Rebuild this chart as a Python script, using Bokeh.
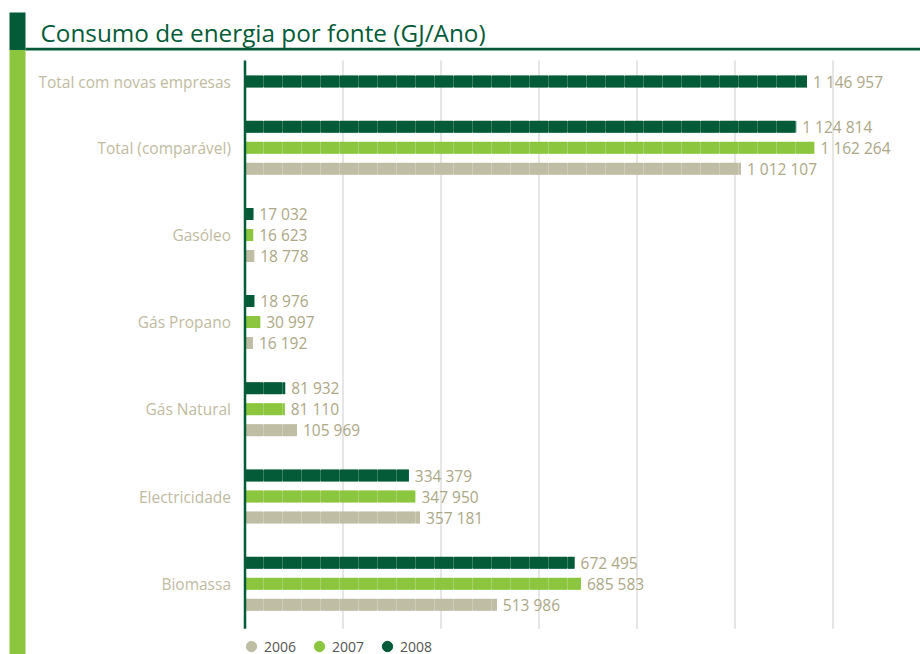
from bokeh.plotting import figure
from bokeh.models import Range1d, BoxAnnotation, Label, Legend, LegendItem, ColumnDataSource
from bokeh.core.properties import value
from bokeh.embed import file_html
from bokeh.resources import INLINE

# ---------------- data ----------------
categories = ["Total com novas empresas", "Total (comparável)", "Gasóleo",
              "Gás Propano", "Gás Natural", "Electricidade", "Biomassa"]
years = ["2006", "2007", "2008"]
v2006 = [None, 1012107, 18778, 16192, 105969, 357181, 513986]
v2007 = [None, 1162264, 16623, 30997, 81110, 347950, 685583]
v2008 = [1146957, 1124814, 17032, 18976, 81932, 334379, 672495]
grid_ticks = [200000, 400000, 600000, 800000, 1000000, 1200000]
title_text = "Consumo de energia por fonte (GJ/Ano)"

# ---------------- style ----------------
DARK = "#045b37"
LIGHT = "#8cc63f"
KHAKI = "#c0bda5"
colors = {"2006": KHAKI, "2007": LIGHT, "2008": DARK}
series = {"2006": v2006, "2007": v2007, "2008": v2008}
FONT = "Open Sans"

W, H = 920, 654
AXIS_PX = 244.5
PX_PER_UNIT = 98 / 200000


def px_to_x(px):
    return (px - AXIS_PX) / PX_PER_UNIT


def fmt(v):
    return f"{v:,}".replace(",", " ")


p = figure(width=W, height=H,
           x_range=Range1d(px_to_x(0), px_to_x(W)),
           y_range=Range1d(H, 0),
           x_axis_location=None, y_axis_location=None,
           min_border=0, toolbar_location=None, output_backend="svg")
p.grid.visible = False
p.outline_line_color = None
p.background_fill_color = "white"
p.border_fill_color = "white"

# ---------------- layout of rows ----------------
ROW = 21
GAP = 24.2
FIRST = 81
order = ["2008", "2007", "2006"]
rows = {yr: dict(x=[], y=[], label=[]) for yr in years}
cat_y = []
pos = FIRST
all_rows = []
for i, cat in enumerate(categories):
    ys = []
    for yr in order:
        v = series[yr][i]
        if v is None:
            continue
        rows[yr]["x"].append(v)
        rows[yr]["y"].append(pos)
        rows[yr]["label"].append(fmt(v))
        ys.append(pos)
        all_rows.append(pos)
        pos += ROW
    cat_y.append(sum(ys) / len(ys))
    pos += GAP

top = min(all_rows) - ROW
bottom = max(all_rows) + 24

# decorations
p.add_layout(BoxAnnotation(left=px_to_x(9), right=px_to_x(25), top=12, bottom=49.5,
                           fill_color=DARK, fill_alpha=1, line_color=None))
p.add_layout(BoxAnnotation(left=px_to_x(9), right=px_to_x(25), top=49.5, bottom=H,
                           fill_color=LIGHT, fill_alpha=1, line_color=None))
p.add_layout(BoxAnnotation(left=px_to_x(25), right=px_to_x(W), top=47.3, bottom=49.9,
                           fill_color=DARK, fill_alpha=1, line_color=None))
p.add_layout(Label(x=px_to_x(40), y=32, text=title_text, text_font=FONT,
                   text_font_size="24.3px", text_color=DARK, text_baseline="alphabetic"))

# grid lines
p.segment(x0=grid_ticks, x1=grid_ticks, y0=[top] * len(grid_ticks), y1=[bottom] * len(grid_ticks),
          line_color="#e0e0e0", line_width=1.6)

# bars (solid base in a lighter tint, tiled stroke on top)
for yr in years:
    d = rows[yr]
    src = ColumnDataSource(dict(zero=[0] * len(d["x"]), x=d["x"], y=d["y"], label=d["label"]))
    p.segment(x0="zero", y0="y", x1="x", y1="y", source=src, line_color=colors[yr],
              line_alpha=0.78, line_width=11.5, line_cap="butt")
    p.segment(x0="zero", y0="y", x1="x", y1="y", source=src, line_color=colors[yr],
              line_width=12, line_cap="butt", line_dash="18 1")
    p.text(x="x", y="y", text="label", source=src, x_offset=6, text_baseline="middle",
           text_align="left", text_font=value(FONT), text_font_size="15.5px", text_color="#aca785")

# axis line
p.segment(x0=[0], x1=[0], y0=[top], y1=[bottom], line_color=DARK, line_width=2.5)

# category labels
p.text(x=[0] * len(categories), y=cat_y, text=categories, x_offset=-14,
       text_align="right", text_baseline="middle", text_font=value(FONT),
       text_font_size="15.5px", text_color="#bfbb9f")

# legend
items = []
for yr in years:
    r = p.scatter(x=[float("nan")], y=[float("nan")], marker="circle", size=11,
                  fill_color=colors[yr], line_color=colors[yr])
    items.append(LegendItem(label=yr, renderers=[r]))
legend = Legend(items=items, location=(238, -5), orientation="horizontal",
                glyph_width=26, glyph_height=26, label_standoff=0, spacing=10,
                padding=0, margin=0, border_line_color=None, background_fill_alpha=0,
                label_text_font=FONT, label_text_font_size="14px",
                label_text_color="#555555")
p.add_layout(legend)

open("out.html", "w").write(file_html(p, INLINE))
